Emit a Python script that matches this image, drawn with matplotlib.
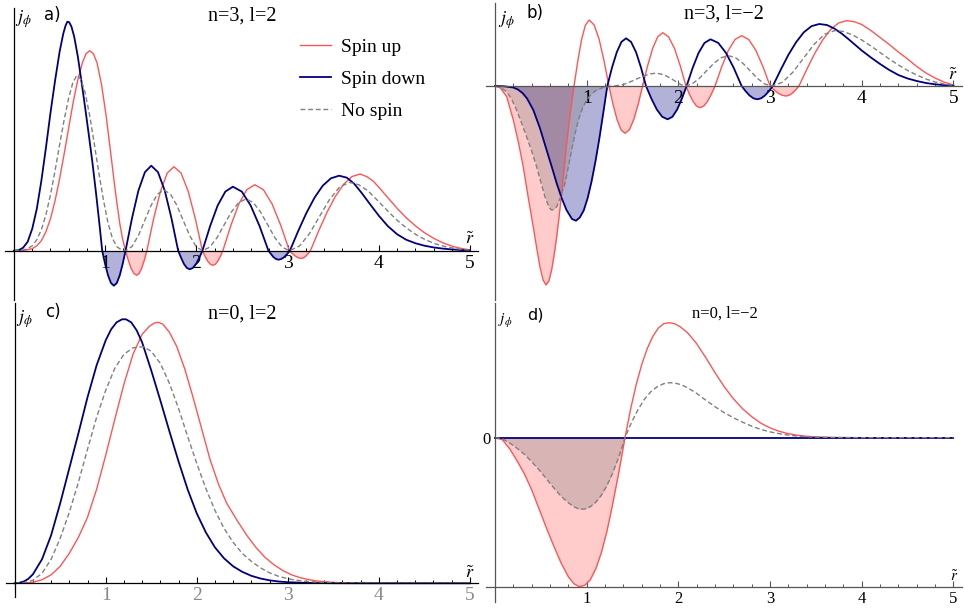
import numpy as np
import matplotlib.pyplot as plt
from matplotlib.ticker import MultipleLocator

plt.rcParams['font.family'] = ['Liberation Serif', 'DejaVu Serif']
plt.rcParams['mathtext.fontset'] = 'stix'

# j_phi(r~), (r~, j) pairs, arbitrary units per panel
# a) n=3, l=2
a_up = [(0, 0), (0.1, 0.2), (0.2, 2), (0.25, 5), (0.3, 10), (0.35, 19), (0.4, 32), (0.45, 50),
        (0.5, 72), (0.55, 97), (0.6, 123), (0.65, 149), (0.7, 171), (0.75, 188), (0.79, 197),
        (0.83, 200), (0.87, 197), (0.91, 188), (0.96, 166), (1.01, 135), (1.06, 98), (1.11, 60),
        (1.16, 27), (1.19, 12), (1.223, 0),
        (1.253, -9.4), (1.283, -17.4), (1.314, -22.7), (1.344, -24.6), (1.372, -22.7),
        (1.4, -17.4), (1.429, -9.4), (1.457, 0),
        (1.531, 32.1), (1.606, 59.4), (1.68, 77.6), (1.754, 84), (1.832, 77.6), (1.91, 59.4),
        (1.988, 32.1), (2.066, 0),
        (2.095, -5.6), (2.123, -10.3), (2.152, -13.5), (2.18, -14.6), (2.208, -13.5),
        (2.235, -10.3), (2.263, -5.6), (2.29, 0),
        (2.378, 25.3), (2.465, 46.7), (2.553, 61), (2.64, 66), (2.735, 61), (2.83, 46.7),
        (2.925, 25.3), (3.02, 0),
        (3.053, -2.9), (3.085, -5.4), (3.118, -7.1), (3.15, -7.7), (3.175, -7.1), (3.2, -5.4),
        (3.225, -2.9), (3.25, 0),
        (3.341, 19.9), (3.432, 38.4), (3.523, 54.2), (3.614, 66.4), (3.705, 74.1),
        (3.795, 76.7), (3.87, 74), (3.94, 69.5), (4.0, 63.5), (4.1, 53), (4.2, 42.5),
        (4.3, 33), (4.4, 25), (4.5, 18), (4.6, 12.5), (4.7, 8), (4.8, 4.6), (4.9, 2.3),
        (5.0, 0.8)]
a_down = [(0, 0), (0.05, 0.5), (0.1, 3), (0.15, 9), (0.2, 22), (0.25, 42), (0.3, 70), (0.35, 103),
          (0.4, 138), (0.45, 170), (0.5, 199), (0.54, 217), (0.565, 225), (0.585, 229),
          (0.605, 228.5), (0.63, 224), (0.66, 214), (0.7, 194), (0.74, 169), (0.78, 143),
          (0.82, 116), (0.86, 88), (0.9, 57), (0.935, 28), (0.967, 0),
          (0.999, -13.4), (1.031, -24.7), (1.063, -32.3), (1.095, -35), (1.127, -32.3),
          (1.159, -24.7), (1.191, -13.4), (1.223, 0),
          (1.294, 32.6), (1.364, 60.1), (1.435, 78.5), (1.505, 85), (1.579, 78.5),
          (1.653, 60.1), (1.726, 32.6), (1.8, 0),
          (1.832, -7.1), (1.863, -13.2), (1.895, -17.2), (1.926, -18.6), (1.961, -17.2),
          (1.996, -13.2), (2.031, -7.1), (2.066, 0),
          (2.15, 24.5), (2.233, 45.2), (2.317, 59.1), (2.4, 64), (2.498, 59.1), (2.595, 45.2),
          (2.693, 24.5), (2.79, 0),
          (2.818, -3.4), (2.845, -6.4), (2.873, -8.3), (2.9, -9), (2.931, -8.3), (2.963, -6.4),
          (2.994, -3.4), (3.025, 0),
          (3.115, 19.4), (3.205, 37.5), (3.295, 53), (3.385, 65), (3.475, 72.4), (3.565, 75),
          (3.65, 73), (3.73, 67), (3.81, 58), (3.9, 47), (4.0, 35), (4.1, 24.5), (4.2, 16.5),
          (4.3, 11), (4.4, 7.5), (4.5, 5), (4.6, 3.3), (4.7, 2.1), (4.8, 1.3), (4.9, 0.7),
          (5.0, 0.3)]
a_none = [(0, 0), (0.1, 0.7), (0.15, 2), (0.2, 5), (0.25, 11), (0.3, 21), (0.35, 36), (0.4, 56),
          (0.45, 80), (0.5, 106), (0.55, 131), (0.6, 153), (0.645, 168), (0.69, 175.7),
          (0.735, 171), (0.78, 158), (0.83, 135), (0.88, 107), (0.93, 78), (0.98, 51),
          (1.03, 28), (1.08, 12), (1.13, 3.8), (1.18, 0.7), (1.223, 0),
          (1.293, 4.1), (1.364, 15.2), (1.434, 30.4), (1.504, 45.5), (1.574, 56.6),
          (1.645, 60.7), (1.715, 56.6), (1.785, 45.5), (1.855, 30.4), (1.926, 15.2),
          (1.996, 4.1), (2.066, 0),
          (2.146, 3.5), (2.225, 12.9), (2.305, 25.9), (2.384, 38.8), (2.464, 48.2),
          (2.543, 51.7), (2.623, 48.2), (2.702, 38.8), (2.782, 25.9), (2.861, 12.9),
          (2.941, 3.5), (3.02, 0),
          (3.13, 4.6), (3.24, 17.1), (3.35, 34.2), (3.46, 51.2), (3.57, 63.7), (3.68, 68.3),
          (3.78, 66), (3.88, 60), (4.0, 49), (4.1, 39.5), (4.2, 30.5), (4.3, 23), (4.4, 16.5),
          (4.5, 11.5), (4.6, 7.5), (4.7, 4.7), (4.8, 2.8), (4.9, 1.4), (5.0, 0.5)]

# b) n=3, l=-2
b_up = [(0, 0), (0.06, -2), (0.128, -10.7), (0.2, -34), (0.255, -56), (0.309, -81), (0.36, -110),
        (0.418, -141), (0.455, -162), (0.491, -181), (0.525, -194), (0.556, -199),
        (0.588, -195), (0.618, -184), (0.645, -169), (0.673, -151), (0.7, -130), (0.727, -107),
        (0.755, -82), (0.782, -57), (0.81, -35), (0.836, -17), (0.862, 0),
        (0.904, 25.3), (0.945, 46.7), (0.987, 61), (1.028, 66), (1.082, 61), (1.136, 46.7),
        (1.189, 25.3), (1.243, 0),
        (1.287, -18.1), (1.331, -33.4), (1.374, -43.7), (1.418, -47.3), (1.466, -43.7),
        (1.514, -33.4), (1.562, -18.1), (1.61, 0),
        (1.665, 20.4), (1.72, 37.7), (1.775, 49.2), (1.83, 53.3), (1.893, 49.2),
        (1.957, 37.7), (2.02, 20.4), (2.083, 0),
        (2.121, -8.3), (2.16, -15.3), (2.198, -20), (2.236, -21.7), (2.277, -20),
        (2.318, -15.3), (2.359, -8.3), (2.4, 0),
        (2.473, 19.3), (2.545, 35.6), (2.618, 46.5), (2.69, 50.3), (2.768, 46.5),
        (2.845, 35.6), (2.923, 19.3), (3.0, 0),
        (3.043, -3.8), (3.087, -7.1), (3.13, -9.2), (3.173, -10), (3.209, -9.2),
        (3.244, -7.1), (3.28, -3.8), (3.315, 0),
        (3.402, 16.9), (3.488, 32.7), (3.575, 46.2), (3.662, 56.6), (3.748, 63.1),
        (3.835, 65.3), (3.92, 64.3), (4.0, 61.5), (4.1, 55.5), (4.2, 48.5), (4.3, 41.5),
        (4.4, 34), (4.5, 27), (4.6, 19.5), (4.7, 13), (4.8, 8), (4.9, 3.8), (5.0, 1)]
b_down = [(0, 0), (0.1, -0.3), (0.2, -1.5), (0.25, -3.5), (0.3, -7), (0.35, -12.5), (0.418, -24),
          (0.49, -42), (0.563, -64), (0.62, -81), (0.672, -97), (0.727, -112), (0.78, -124),
          (0.84, -133), (0.883, -134.7), (0.925, -131.5), (0.968, -124.4), (1.011, -112),
          (1.054, -95.2), (1.097, -74.8), (1.14, -51.5), (1.182, -26.3), (1.225, 0),
          (1.276, 18.3), (1.328, 33.7), (1.379, 44.1), (1.43, 47.7), (1.484, 44.1),
          (1.539, 33.7), (1.593, 18.3), (1.647, 0),
          (1.706, -12.7), (1.765, -23.5), (1.824, -30.8), (1.883, -33.3), (1.935, -30.8),
          (1.987, -23.5), (2.038, -12.7), (2.09, 0),
          (2.155, 17.9), (2.22, 33), (2.285, 43.1), (2.35, 46.7), (2.435, 43.1), (2.52, 33),
          (2.605, 17.9), (2.69, 0),
          (2.733, -5.1), (2.775, -9.4), (2.818, -12.3), (2.86, -13.3), (2.903, -12.3),
          (2.945, -9.4), (2.988, -5.1), (3.03, 0),
          (3.115, 16), (3.199, 31), (3.284, 43.8), (3.368, 53.7), (3.453, 59.9), (3.537, 62),
          (3.62, 61), (3.7, 57.5), (3.78, 52.5), (3.86, 46.5), (3.93, 41), (4.0, 35.5),
          (4.1, 28.5), (4.2, 22), (4.3, 16), (4.4, 11), (4.5, 7.5), (4.6, 5), (4.7, 3),
          (4.8, 1.7), (4.9, 0.8), (5.0, 0.3)]
b_none = [(0, 0), (0.06, -1.5), (0.128, -5.7), (0.18, -13), (0.236, -24), (0.29, -37),
          (0.345, -50.7), (0.4, -65), (0.454, -80.7), (0.5, -96), (0.545, -110.7), (0.58, -119),
          (0.6, -122.5), (0.618, -124), (0.64, -123.5), (0.673, -120.7), (0.72, -110),
          (0.763, -97.3), (0.8, -81), (0.836, -64), (0.872, -48), (0.909, -34), (0.955, -22),
          (1.0, -14), (1.05, -8), (1.109, -4), (1.17, -1.8), (1.236, -0.7), (1.3, 0),
          (1.38, 1), (1.46, 3.5), (1.54, 6.8), (1.62, 10), (1.7, 12.2), (1.745, 12.7),
          (1.8, 12.2), (1.86, 10.5), (1.92, 7.5), (1.98, 4), (2.03, 1.3), (2.07, 0),
          (2.149, 2), (2.228, 7.6), (2.308, 15.2), (2.387, 22.7), (2.466, 28.3), (2.545, 30.3),
          (2.624, 28.3), (2.704, 22.7), (2.783, 15.2), (2.862, 7.6), (2.941, 2), (3.02, 0),
          (3.135, 3.7), (3.25, 13.9), (3.365, 27.8), (3.48, 41.6), (3.595, 51.8), (3.71, 55.5),
          (3.8, 54.5), (3.9, 51), (4.0, 46), (4.1, 40), (4.2, 33.5), (4.3, 27), (4.4, 21),
          (4.5, 15.5), (4.6, 11), (4.7, 7), (4.8, 4), (4.9, 2), (5.0, 0.7)]

# c) n=0, l=2
c_up = [(0, 0), (0.1, 0.2), (0.2, 1), (0.3, 3.5), (0.4, 8.5), (0.5, 17), (0.6, 30), (0.7, 46),
        (0.8, 66), (0.9, 94), (1.0, 128), (1.1, 164), (1.2, 199), (1.3, 229), (1.4, 249),
        (1.48, 257), (1.54, 260.5), (1.578, 261), (1.63, 259), (1.7, 251), (1.78, 237),
        (1.87, 214), (1.963, 185), (2.05, 156), (2.146, 124), (2.24, 99), (2.33, 80),
        (2.45, 62), (2.55, 48), (2.65, 36), (2.75, 26), (2.85, 18.5), (2.95, 12.5), (3.05, 8.2),
        (3.15, 5.3), (3.25, 3.3), (3.35, 2), (3.5, 0.9), (3.7, 0.3), (4.0, 0.05), (5.0, 0)]
c_down = [(0, 0), (0.05, 0.5), (0.1, 1.8), (0.15, 4.5), (0.2, 9), (0.3, 24), (0.4, 48), (0.5, 80),
          (0.6, 115), (0.7, 150), (0.8, 186), (0.9, 218), (1.0, 243), (1.06, 254), (1.12, 261),
          (1.18, 264), (1.223, 264), (1.28, 261), (1.34, 253), (1.4, 241), (1.5, 213),
          (1.6, 183), (1.7, 152), (1.8, 122), (1.9, 94), (2.0, 70), (2.1, 51), (2.2, 36),
          (2.3, 25), (2.4, 17), (2.5, 11.5), (2.6, 7.5), (2.7, 4.8), (2.8, 3), (2.9, 1.8),
          (3.0, 1.1), (3.2, 0.4), (3.5, 0.1), (4.0, 0), (5.0, 0)]
c_none = [(0, 0), (0.1, 0.6), (0.2, 3), (0.3, 10), (0.4, 24), (0.5, 45), (0.6, 71), (0.7, 101),
          (0.8, 134), (0.9, 166), (1.0, 193), (1.1, 215), (1.2, 229), (1.3, 235.5),
          (1.413, 236.6), (1.5, 232), (1.6, 220), (1.7, 200), (1.8, 175), (1.9, 147), (2.0, 120),
          (2.1, 95), (2.2, 73), (2.3, 55), (2.4, 41), (2.5, 30), (2.6, 22), (2.7, 15.5),
          (2.8, 10.5), (2.9, 7), (3.0, 4.6), (3.1, 3), (3.2, 1.9), (3.35, 1), (3.5, 0.5),
          (4.0, 0.05), (5.0, 0)]

# d) n=0, l=-2
d_up = [(0, 0), (0.08, -2), (0.16, -11), (0.24, -23), (0.32, -36), (0.4, -52), (0.48, -71),
        (0.56, -90), (0.64, -108), (0.72, -125), (0.8, -139), (0.86, -146), (0.92, -149),
        (0.98, -147.5), (1.04, -142), (1.1, -131), (1.16, -115), (1.22, -94), (1.28, -68),
        (1.35, -35), (1.418, 0), (1.48, 29), (1.54, 53), (1.6, 73), (1.66, 89), (1.72, 101),
        (1.78, 109.5), (1.84, 114), (1.9, 115), (1.96, 114), (2.02, 111), (2.1, 105), (2.2, 94),
        (2.3, 80), (2.4, 65), (2.5, 51), (2.6, 39), (2.7, 29), (2.8, 21), (2.9, 14.5),
        (3.0, 9.8), (3.1, 6.4), (3.2, 4), (3.3, 2.4), (3.4, 1.4), (3.5, 0.8), (3.7, 0.2),
        (4.0, 0), (5.0, 0)]
d_down = [(0, 0), (5.0, 0)]
d_none = [(0, 0), (0.08, -1), (0.16, -5.3), (0.24, -10.5), (0.32, -16.5), (0.4, -24),
          (0.48, -32), (0.56, -41), (0.64, -50), (0.72, -58.5), (0.8, -65), (0.86, -69),
          (0.92, -71.5), (0.98, -71.3), (1.04, -69), (1.1, -64.5), (1.16, -57.5), (1.22, -48),
          (1.28, -36), (1.35, -19.5), (1.418, 0), (1.49, 15.5), (1.56, 28), (1.63, 38.5),
          (1.7, 46), (1.77, 51), (1.84, 54), (1.9, 55), (1.96, 54.7), (2.03, 53), (2.1, 50),
          (2.2, 44.3), (2.3, 37.5), (2.4, 31), (2.5, 25), (2.6, 20), (2.7, 15.5), (2.8, 11.5),
          (2.9, 8.3), (3.0, 5.8), (3.1, 4), (3.2, 2.6), (3.3, 1.6), (3.4, 1), (3.5, 0.6),
          (3.7, 0.2), (4.0, 0), (5.0, 0)]

panels = [
    ('a)', 'n=3, l=2', a_up, a_down, a_none),
    ('b)', 'n=3, l=\u22122', b_up, b_down, b_none),
    ('c)', 'n=0, l=2', c_up, c_down, c_none),
    ('d)', 'n=0, l=\u22122', d_up, d_down, d_none),
]

RED = '#ff5555'
BLUE = '#00007f'
GRAY = '#808080'

W, H = 965, 608


def box(left, right, top, bottom):
    return [left / W, 1 - bottom / H, (right - left) / W, (bottom - top) / H]


# axes boxes (pixels) and y ranges
boxes = [box(4.9, 478.2, 8, 300), box(485.8, 961.7, 3, 300),
         box(5.6, 477.9, 303, 597), box(485.8, 961.7, 303, 601.7)]
ylims = [(-49.3, 242.7), (-214, 83), (-13.7, 280.3), (-164, 134.7)]
axis_colors = ['black', '#555555', 'black', '#555555']
label_colors = ['black', 'black', '#888888', 'black']
tick_sizes = [14, 14, 14, 12]

fig = plt.figure(figsize=(9.65, 6.08), dpi=100)

axes = []
for i, (tag, title, up, down, none) in enumerate(panels):
    ax = fig.add_axes(boxes[i])
    axes.append(ax)
    for data, c, ls, lw, lab in [(up, RED, '-', 1.0, 'Spin up'),
                                 (down, BLUE, '-', 1.3, 'Spin down'),
                                 (none, GRAY, (0, (3.5, 2)), 1.0, 'No spin')]:
        x, y = np.array(data, dtype=float).T
        ax.fill_between(x, np.minimum(y, 0), 0, color=c, alpha=0.3, lw=0)
        ax.plot(x, y, color=c, ls=ls, lw=lw, label=lab)

    ax.set_xlim(-0.1, 5.09)
    ax.set_ylim(*ylims[i])
    ax.patch.set_alpha(0)
    for s in ['top', 'right']:
        ax.spines[s].set_visible(False)
    ax.spines['left'].set_position(('data', 0))
    if tag == 'd)':
        ax.spines['bottom'].set_position(('data', np.array(up)[:, 1].min()))
    else:
        ax.spines['bottom'].set_position(('data', 0))
    for s in ['left', 'bottom']:
        ax.spines[s].set_color(axis_colors[i])
        ax.spines[s].set_linewidth(0.9)

    ax.set_xticks([1, 2, 3, 4, 5])
    ax.xaxis.set_minor_locator(MultipleLocator(0.2))
    ax.tick_params(axis='x', which='major', direction='in', length=4, width=0.8,
                   color=axis_colors[i], labelcolor=label_colors[i],
                   labelsize=tick_sizes[i], pad=3)
    ax.tick_params(axis='x', which='minor', direction='in', length=2, width=0.7,
                   color=axis_colors[i])
    if tag == 'd)':
        ax.set_yticks([0])
        ax.set_yticklabels(['0'])
        ax.tick_params(axis='y', direction='in', length=3, width=0.8,
                       color=axis_colors[i], labelsize=tick_sizes[i], pad=3)
    else:
        ax.set_yticks([])


def fx(px):
    return px / W


def fy(py):
    return 1 - py / H


# panel annotations: j_phi, tag, title, r~ positions (pixels), then text sizes
labels = [((23, 19), (44, 15), (242, 16), (470, 240), 13, 12, 14.5),
          ((506, 20), (527, 13), (724, 14), (953, 76), 13, 12, 14.5),
          ((24, 319), (45, 312), (242, 314), (470, 574), 13, 12, 14.5),
          ((505, 321), (527, 315), (725, 314), (954, 577), 11, 11.5, 12)]
for (tag, title, *_), (jp, tp, ttl, rp, fs, fs_tag, fs_title) in zip(panels, labels):
    fig.text(fx(jp[0]), fy(jp[1]), r'$j_\phi$', ha='center', va='center', fontsize=fs)
    fig.text(fx(tp[0]), fy(tp[1]), tag, ha='left', va='center', fontsize=fs_tag,
             family='DejaVu Sans')
    fig.text(fx(ttl[0]), fy(ttl[1]), title, ha='center', va='center', fontsize=fs_title)
    fig.text(fx(rp[0]), fy(rp[1]), r'$\tilde{r}$', ha='center', va='center', fontsize=fs)

h, l = axes[0].get_legend_handles_labels()
fig.legend(h, l, loc='upper left', bbox_to_anchor=(fx(300), fy(38)), frameon=False,
           fontsize=14, handlelength=1.6, handletextpad=0.5, labelspacing=0.75,
           borderpad=0, borderaxespad=0)

fig.savefig('out.png', dpi=100)
